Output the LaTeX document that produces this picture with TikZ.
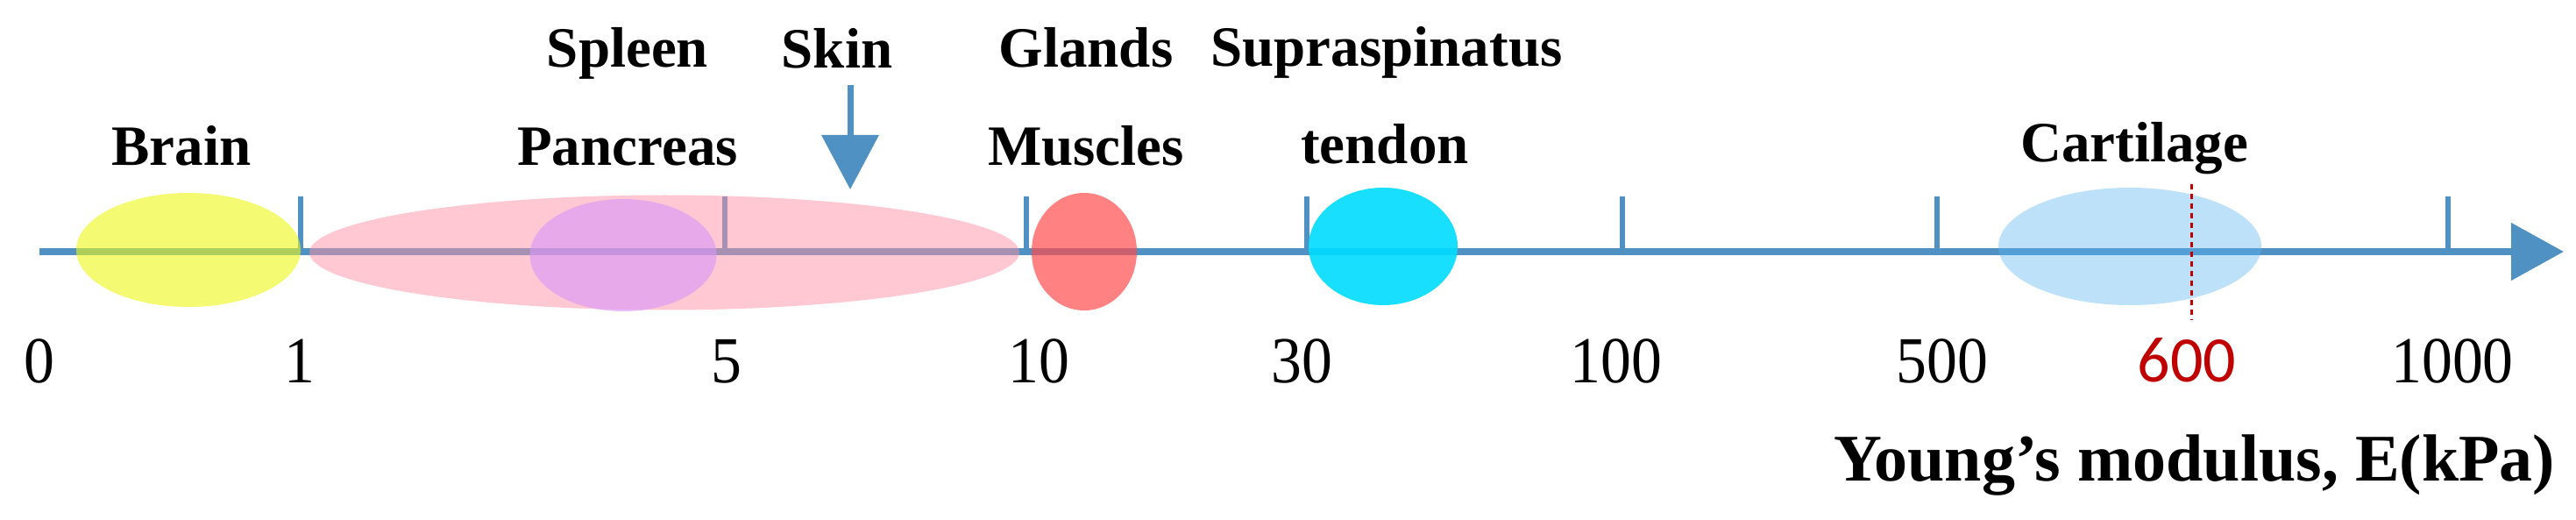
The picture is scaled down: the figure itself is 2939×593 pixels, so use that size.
\documentclass[tikz,border=0pt]{standalone}
\usepackage{fontspec}
\setmainfont{Liberation Serif}
\newfontfamily\numfont[FakeStretch=0.93]{Liberation Serif}
\newfontfamily\calfont{Carlito}
\usetikzlibrary{arrows.meta,shapes.geometric}
\definecolor{axisblue}{RGB}{80,145,195}
\definecolor{brainc}{RGB}{238,247,22}
\definecolor{pinkc}{RGB}{255,145,165}
\definecolor{violetc}{RGB}{217,150,252}
\definecolor{musclec}{RGB}{255,76,76}
\definecolor{cyanc}{RGB}{0,220,255}
\definecolor{cartc}{RGB}{92,180,242}
\definecolor{darkred}{RGB}{192,0,0}
\tikzset{
  organ/.style={font=\fontsize{65}{65}\selectfont\bfseries, anchor=base, inner sep=0pt},
  num/.style={font=\fontsize{75}{75}\selectfont\numfont, anchor=base, inner sep=0pt},
  blob/.style={ellipse, draw=none, inner sep=0pt},
  tickmark/.style={axisblue, line width=6pt},
}
\begin{document}
\begin{tikzpicture}[x=1pt,y=-1pt]
\useasboundingbox (0,0) rectangle (2939,593);
% axis
\coordinate (a0) at (45,287);
\coordinate (aend) at (2925,287);
\draw[axisblue, line width=8pt, -{Triangle[length=60pt,width=64pt]}] (a0) -- (aend);
% ticks
\foreach \x/\n in {343/t1,827/t5,1171/t10,1491/t30,1851/t100,2210/t500,2793/t1000}{
  \coordinate (\n top) at (\x,224);
  \coordinate (\n bot) at (\x,287);
  \draw[tickmark] (\n top) -- (\n bot);
}
% blobs
\node[blob, fill=brainc, fill opacity=0.6, minimum width=256pt, minimum height=130pt] (brainE) at (215,285) {};
\node[blob, fill=pinkc, fill opacity=0.5, minimum width=810pt, minimum height=131pt] (pinkE) at (758,288) {};
\node[blob, fill=violetc, fill opacity=0.6, minimum width=213pt, minimum height=128pt] (pancE) at (711,291) {};
\node[blob, fill=musclec, fill opacity=0.7, minimum width=120pt, minimum height=134pt] (muscE) at (1237,287) {};
\node[blob, fill=cyanc, fill opacity=0.9, minimum width=170pt, minimum height=134pt] (tendE) at (1578,281) {};
\node[blob, fill=cartc, fill opacity=0.4, minimum width=300pt, minimum height=134pt] (cartE) at (2430,281) {};
% red dotted line
\coordinate (r1) at (2500,210);
\coordinate (r2) at (2500,365);
\draw[darkred, line width=3pt, dash pattern=on 6pt off 5pt] (r1) -- (r2);
% organ labels
\node[organ] (brain) at (207,189) {Brain};
\node[organ] (spleen) at (716,77) {Spleen};
\node[organ] (panc) at (716,189) {Pancreas};
\node[organ] (skin) at (955,78) {Skin};
\node[organ] (glands) at (1239,77) {Glands};
\node[organ] (musc) at (1239,189) {Muscles};
\node[organ] (supra) at (1582,76) {Supraspinatus};
\node[organ] (tendon) at (1580,187) {tendon};
\node[organ] (cart) at (2435,185) {Cartilage};
% skin arrow
\coordinate (s1) at (970,97);
\coordinate (s2) at (970,216);
\draw[axisblue, line width=7pt, -{Triangle[length=62pt,width=64pt]}] (s1) -- (s2);
% numbers
\node[num] (n0) at (45,436) {0};
\node[num] (n1) at (342,436) {1};
\node[num] (n5) at (829,436) {5};
\node[num] (n10) at (1185,436) {10};
\node[num] (n30) at (1485,436) {30};
\node[num] (n100) at (1844,436) {100};
\node[num] (n500) at (2216,436) {500};
\node[num, font=\fontsize{74}{74}\selectfont\calfont, text=darkred] (n600) at (2495,435) {600};
\node[num] (n1000) at (2798,436) {1000};
% title
\node[font=\fontsize{76}{76}\selectfont\bfseries, anchor=base west, inner sep=0pt] (title) at (2092,548) {Young’s modulus, E(kPa)};
\end{tikzpicture}
\end{document}
